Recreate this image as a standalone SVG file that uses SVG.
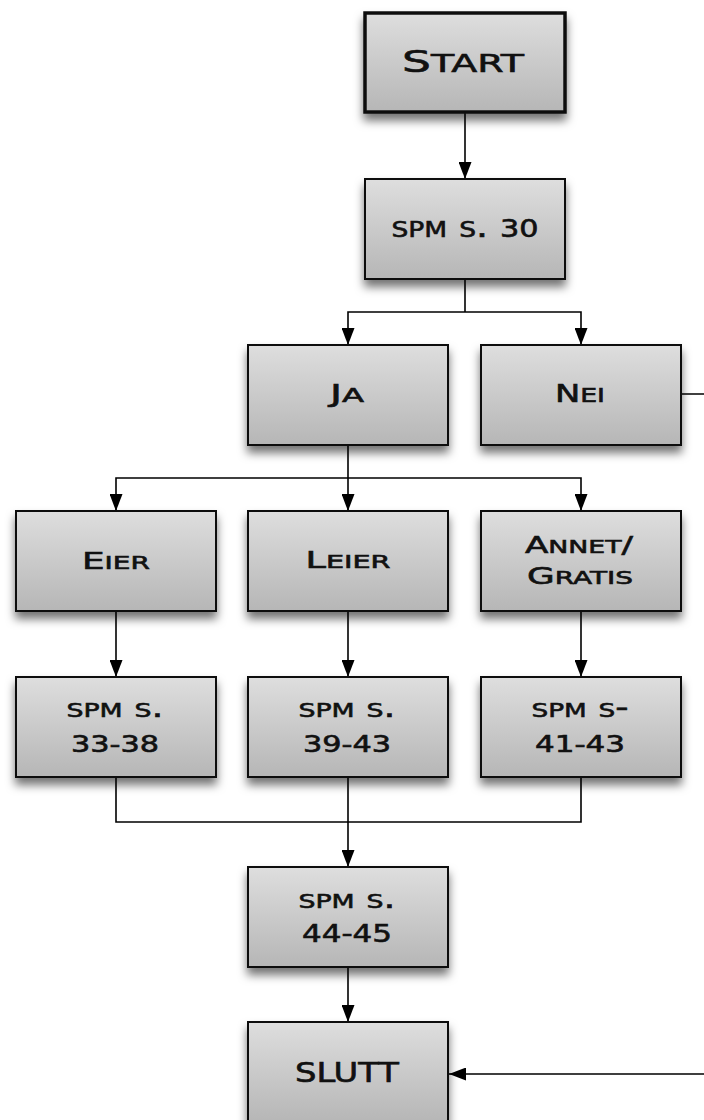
<svg xmlns="http://www.w3.org/2000/svg" width="704" height="1120" viewBox="0 0 704 1120">
<defs>
  <linearGradient id="g" x1="0" y1="0" x2="0" y2="1">
    <stop offset="0" stop-color="#dedede"/>
    <stop offset="1" stop-color="#b6b6b6"/>
  </linearGradient>
  <filter id="sh" x="-20%" y="-20%" width="140%" height="150%">
    <feDropShadow dx="0" dy="7" stdDeviation="5" flood-color="#000" flood-opacity="0.55"/>
  </filter>
  <marker id="ah" markerUnits="userSpaceOnUse" markerWidth="17" markerHeight="13" refX="17" refY="6.5" orient="auto">
    <path d="M0,0 L17,6.5 L0,13 z" fill="#000"/>
  </marker>
</defs>
<style>
  .box { fill: url(#g); stroke: #111; stroke-width: 2; filter: url(#sh); }
  .start { stroke-width: 3.5; }
  .t { font-family: "DejaVu Sans", "Liberation Sans", sans-serif; font-variant: small-caps; fill: #111; stroke: #111; stroke-width: 0.6; text-anchor: middle; }
  .c { fill: none; stroke: #000; stroke-width: 1.6; }
  .a { marker-end: url(#ah); }
</style>

<g id="connectors">
  <path class="c a" d="M465,113 V179"/>
  <path class="c" d="M465,279 V312"/>
  <path class="c a" d="M465,312 H348 V345"/>
  <path class="c a" d="M465,312 H581 V345"/>
  <path class="c a" d="M681,394 H712 V1074 H449"/>
  <path class="c" d="M348,445 V478"/>
  <path class="c a" d="M348,478 H116 V511"/>
  <path class="c a" d="M348,478 V511"/>
  <path class="c a" d="M348,478 H581 V511"/>
  <path class="c a" d="M116,611 V677"/>
  <path class="c a" d="M348,611 V677"/>
  <path class="c a" d="M581,611 V677"/>
  <path class="c" d="M116,777 V822 H581 V777"/>
  <path class="c a" d="M348,777 V867"/>
  <path class="c a" d="M348,967 V1022"/>
</g>

<g id="start">
  <rect class="box start" x="365" y="13" width="200" height="99"/>
  <text class="t" x="463" y="72" font-size="30" textLength="122" lengthAdjust="spacingAndGlyphs">S<tspan font-size="35">tart</tspan></text>
</g>
<g id="spm30">
  <rect class="box" x="365" y="179" width="200" height="100"/>
  <text class="t" x="465" y="237" font-size="24" textLength="147" lengthAdjust="spacingAndGlyphs"><tspan font-size="30">spm s. </tspan>30</text>
</g>
<g id="ja">
  <rect class="box" x="248" y="345" width="200" height="100"/>
  <text class="t" x="347" y="402" font-size="24" textLength="34" lengthAdjust="spacingAndGlyphs">J<tspan font-size="27">a</tspan></text>
</g>
<g id="nei">
  <rect class="box" x="481" y="345" width="200" height="100"/>
  <text class="t" x="580" y="402" font-size="24" textLength="50" lengthAdjust="spacingAndGlyphs">N<tspan font-size="27">ei</tspan></text>
</g>
<g id="eier">
  <rect class="box" x="16" y="511" width="200" height="100"/>
  <text class="t" x="116" y="569" font-size="23" textLength="68" lengthAdjust="spacingAndGlyphs">E<tspan font-size="26">ier</tspan></text>
</g>
<g id="leier">
  <rect class="box" x="248" y="511" width="200" height="100"/>
  <text class="t" x="348" y="568" font-size="23" textLength="85" lengthAdjust="spacingAndGlyphs">L<tspan font-size="26">eier</tspan></text>
</g>
<g id="annet">
  <rect class="box" x="481" y="511" width="200" height="100"/>
  <text class="t" x="579" y="553" font-size="23" textLength="108" lengthAdjust="spacingAndGlyphs">A<tspan font-size="26">nnet</tspan>/</text>
  <text class="t" x="580" y="584" font-size="23" textLength="106" lengthAdjust="spacingAndGlyphs">G<tspan font-size="26">ratis</tspan></text>
</g>
<g id="spm3338">
  <rect class="box" x="16" y="677" width="200" height="100"/>
  <text class="t" x="115" y="717" font-size="28" textLength="97" lengthAdjust="spacingAndGlyphs">spm s.</text>
  <text class="t" x="115" y="752" font-size="23" textLength="88" lengthAdjust="spacingAndGlyphs">33-38</text>
</g>
<g id="spm3943">
  <rect class="box" x="248" y="677" width="200" height="100"/>
  <text class="t" x="347" y="717" font-size="28" textLength="97" lengthAdjust="spacingAndGlyphs">spm s.</text>
  <text class="t" x="347" y="752" font-size="23" textLength="88" lengthAdjust="spacingAndGlyphs">39-43</text>
</g>
<g id="spm4143">
  <rect class="box" x="481" y="677" width="200" height="100"/>
  <text class="t" x="580" y="717" font-size="28" textLength="97" lengthAdjust="spacingAndGlyphs">spm s-</text>
  <text class="t" x="580" y="752" font-size="23" textLength="90" lengthAdjust="spacingAndGlyphs">41-43</text>
</g>
<g id="spm4445">
  <rect class="box" x="248" y="867" width="200" height="100"/>
  <text class="t" x="347" y="908" font-size="28" textLength="97" lengthAdjust="spacingAndGlyphs">spm s.</text>
  <text class="t" x="347" y="942" font-size="24" textLength="90" lengthAdjust="spacingAndGlyphs">44-45</text>
</g>
<g id="slutt">
  <rect class="box" x="248" y="1022" width="200" height="100"/>
  <text class="t" x="347" y="1082" font-size="26" textLength="104" lengthAdjust="spacingAndGlyphs">SLUTT</text>
</g>
</svg>
